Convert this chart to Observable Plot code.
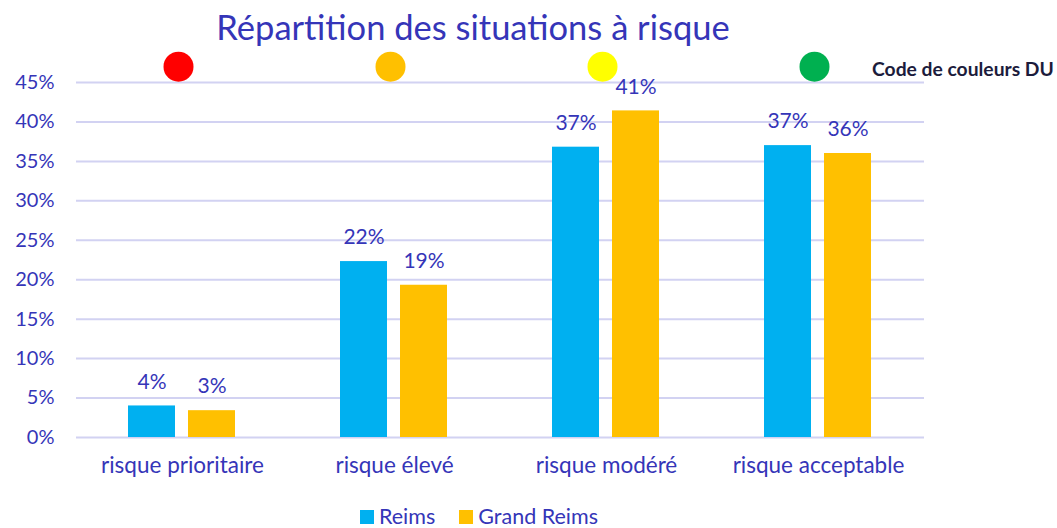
<!DOCTYPE html>
<html>
<head>
<meta charset="utf-8">
<script src="https://cdn.jsdelivr.net/npm/d3@7"></script>
<script src="https://cdn.jsdelivr.net/npm/@observablehq/plot@0.6"></script>
<style>
  body { margin: 0; background: white; font-family: Lato, "Open Sans", sans-serif; }
  #wrap { position: relative; width: 1057px; height: 528px; overflow: hidden; }
  #title { height: 50px; width: 946px; text-align: center; font-size: 34.5px; line-height: 54px; color: #3535b8; }
  #code { position: absolute; left: 872px; top: 57px; font-size: 19.3px; font-weight: bold; color: #1c1c3c; white-space: nowrap; }
  #legend { position: absolute; top: 505px; left: 0; width: 958px; height: 23px; display: flex; justify-content: center; gap: 24px; font-size: 21.5px; line-height: 23px; color: #3535b8; }
  #legend span.item { display: flex; align-items: center; gap: 5px; }
  #legend span.sw { display: inline-block; width: 14px; height: 14px; }
</style>
</head>
<body>
<div id="wrap">
  <div id="title"></div>
  <div id="chart"></div>
  <div id="code"></div>
  <div id="legend"></div>
</div>
<script>
const titleText = "Répartition des situations à risque";
const codeText = "Code de couleurs DU";
const categories = ["risque prioritaire", "risque élevé", "risque modéré", "risque acceptable"];
const seriesNames = ["Reims", "Grand Reims"];
const seriesColors = ["#00B0F0", "#FFC000"];
const reims = [4.0, 22.3, 36.8, 37.0];
const grandReims = [3.4, 19.3, 41.4, 36.0];
const riskColors = ["#FF0000", "#FFC000", "#FFFF00", "#00B050"];
const yTicks = [0, 5, 10, 15, 20, 25, 30, 35, 40, 45];

const textColor = "#3535b8";
const data = [];
categories.forEach((c, i) => {
  data.push({cat: c, series: seriesNames[0], value: reims[i]});
  data.push({cat: c, series: seriesNames[1], value: grandReims[i]});
});

document.getElementById("title").textContent = titleText;
document.getElementById("code").textContent = codeText;

const dotMarks = categories.map((c, i) =>
  Plot.dot([c], {fx: d => d, y: () => 47, r: 15, fill: riskColors[i], stroke: "none", dx: -4})
);

const plot = Plot.plot({
  width: 1057,
  height: 445,
  marginTop: 32,
  marginBottom: 58,
  marginLeft: 75,
  marginRight: 132,
  style: {fontFamily: "Lato, sans-serif", fontSize: "20px", color: textColor, background: "white", overflow: "visible"},
  fx: {domain: categories, paddingInner: 0, paddingOuter: 0, label: null},
  x: {domain: seriesNames, paddingInner: 0.213, paddingOuter: 0.848, axis: null},
  y: {domain: [0, 45], label: null},
  color: {domain: seriesNames, range: seriesColors},
  marks: [
    Plot.ruleY(yTicks, {stroke: "#d2d2f2", strokeWidth: 2}),
    Plot.axisY({ticks: yTicks, tickFormat: d => d + "%", tickSize: 0, tickPadding: 22, fontSize: 20, label: null, fill: textColor}),
    Plot.axisFx({anchor: "bottom", tickSize: 0, tickPadding: 20, fontSize: 22.5, label: null, fill: textColor}),
    Plot.barY(data, {fx: "cat", x: "series", y: "value", fill: "series"}),
    Plot.text(data, {fx: "cat", x: "series", y: "value", text: d => Math.round(d.value) + "%", dy: -24, fill: textColor, fontSize: 21}),
    ...dotMarks
  ]
});
document.getElementById("chart").appendChild(plot);

const legend = document.getElementById("legend");
seriesNames.forEach((s, i) => {
  const item = document.createElement("span");
  item.className = "item";
  const sw = document.createElement("span");
  sw.className = "sw";
  sw.style.background = seriesColors[i];
  const t = document.createElement("span");
  t.textContent = s;
  item.appendChild(sw);
  item.appendChild(t);
  legend.appendChild(item);
});
</script>
</body>
</html>
